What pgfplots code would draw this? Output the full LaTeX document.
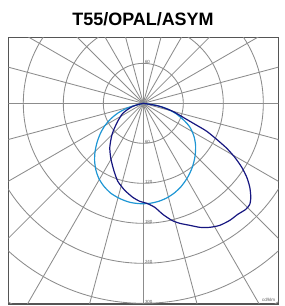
\documentclass[border=0pt]{standalone}
\usepackage{pgfplots}
\pgfplotsset{compat=1.18}
\usepackage{fontspec}
\setmainfont{Liberation Sans}
\definecolor{gridc}{RGB}{140,140,140}
\definecolor{frame}{RGB}{85,85,85}
\definecolor{lightb}{RGB}{30,150,212}
\definecolor{darkb}{RGB}{22,22,128}
\definecolor{labc}{RGB}{90,90,90}
\begin{document}
\begin{tikzpicture}
\path[use as bounding box] (-8.3bp,-2bp) rectangle (276.7bp,304bp);
\begin{axis}[
  at={(0,0)}, anchor=south west,
  scale only axis, width=270bp, height=266.67bp,
  xmin=-202.5, xmax=202.5, ymin=-301, ymax=99,
  xtick=\empty, ytick=\empty,
  axis line style={draw=frame, line width=1.1bp},
  clip=true,
]
% rings
\pgfplotsinvokeforeach{40,80,120,160,200,240,280}{
  \draw[gridc, line width=0.85bp] (axis cs:0,0) circle[radius=#1bp];
}
% radial lines
\pgfplotsinvokeforeach{0,15,...,345}{
  \draw[gridc, line width=0.85bp] (axis cs:0,0) -- ++(#1:400bp);
}
% ring labels
\pgfplotsforeachungrouped \v/\t in {60/60,-60/60,-120/120,-180/180,-240/240,-300/300}{
  \edef\temp{\noexpand\node[anchor=south west, inner sep=0pt, xshift=1.5bp, font=\noexpand\fontsize{4.5}{5}\noexpand\selectfont, text=labc] at (axis cs:0,\v) {\t};}
  \temp
}
\node[anchor=south east, inner sep=0pt, font=\fontsize{4.5}{5}\selectfont, text=labc] at (axis cs:198,-298) {cd/klm};
% light blue curve
\addplot[lightb, line width=1.2bp, smooth, tension=0.45] coordinates {
(0,0) (-12,-3) (-25,-7.5) (-38,-14.5) (-49,-23.5) (-58,-34)
(-64.5,-45.5) (-69.5,-59) (-72.5,-73.5) (-73,-87) (-71,-100.5)
(-66.5,-113) (-59,-124.5) (-48.5,-135) (-35,-143) (-20,-148.5)
(-5,-150.5) (9.75,-150) (23,-147) (35,-142) (46.5,-134.5)
(57,-124.5) (66.5,-111) (73.5,-96) (77.5,-80) (78.5,-64)
(76,-49.5) (70,-36) (61,-25.5) (49,-15.5) (35,-8) (19,-3) (0,0)
};
% dark blue curve
\addplot[darkb, line width=1.2bp, smooth, tension=0.4] coordinates {
(0,0) (9.75,-1.5) (24.75,-4.5) (44.25,-12) (62.25,-22.5) (80.25,-33)
(95.25,-42) (111.75,-55.5) (125.25,-67.5) (137.25,-81) (147.75,-96)
(155.25,-111) (159.75,-126) (161.25,-141) (159.75,-151.5) (153.75,-159)
(141.75,-166.5) (129.75,-175.5) (114.75,-183) (99.75,-186) (84.75,-186)
(69.75,-183) (54.75,-180) (42.75,-175.5) (29.25,-166.5) (17.25,-156)
(5.25,-150) (-5.25,-147) (-15.75,-141) (-27.75,-130.5) (-38.25,-117)
(-44.25,-100.5) (-48.75,-82.5) (-50.25,-66) (-47.25,-48) (-42.75,-36)
(-36.75,-24) (-30.75,-15) (-23.25,-9) (-15.75,-4.5) (-6.75,-1.5) (0,0)
};
\end{axis}
\node[anchor=base, inner sep=0pt, font=\fontsize{18}{20}\selectfont\bfseries] at (134.7bp,278bp) {T55/OPAL/ASYM};
\end{tikzpicture}
\end{document}
